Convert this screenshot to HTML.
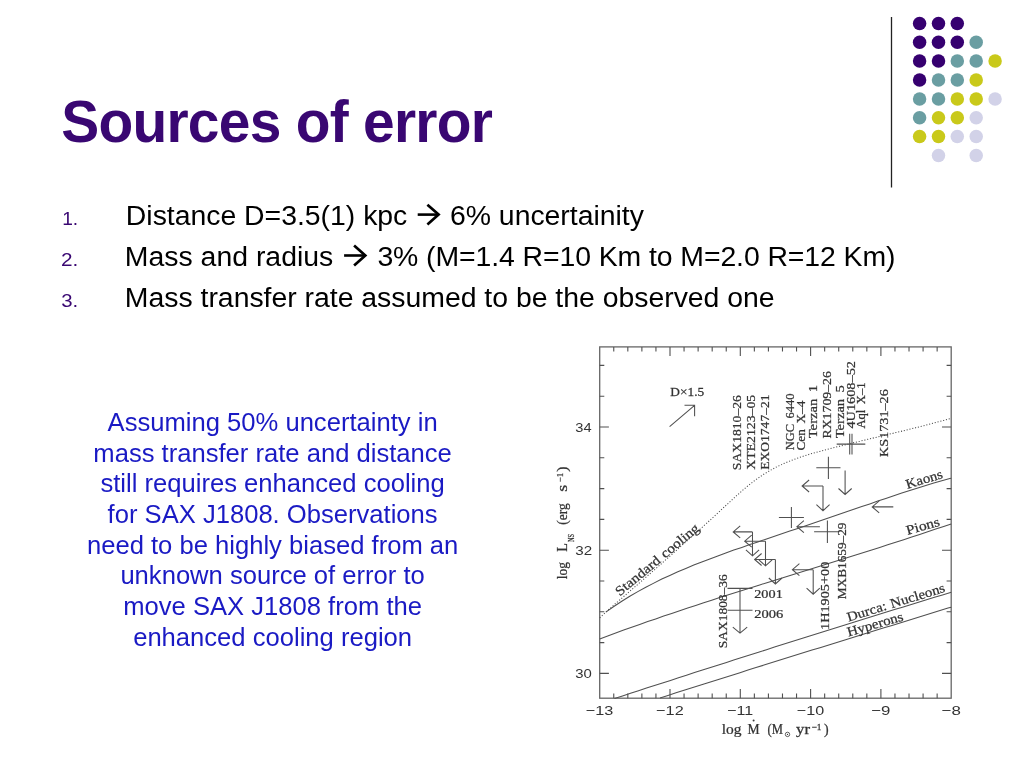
<!DOCTYPE html>
<html><head><meta charset="utf-8"><title>Sources of error</title>
<style>
html,body{margin:0;padding:0;background:#fff;}
body{width:1024px;height:768px;position:relative;overflow:hidden;font-family:"Liberation Sans",sans-serif;}
svg{position:absolute;left:0;top:0;display:block;will-change:transform;}
</style></head><body>
<svg width="1024" height="768" viewBox="0 0 1024 768">
<line x1="891.5" y1="17" x2="891.5" y2="187.5" stroke="#222" stroke-width="1.3"/>
<circle cx="919.6" cy="23.4" r="6.75" fill="#360070"/><circle cx="938.5" cy="23.4" r="6.75" fill="#360070"/><circle cx="957.3" cy="23.4" r="6.75" fill="#360070"/><circle cx="919.6" cy="42.3" r="6.75" fill="#360070"/><circle cx="938.5" cy="42.3" r="6.75" fill="#360070"/><circle cx="957.3" cy="42.3" r="6.75" fill="#360070"/><circle cx="976.2" cy="42.3" r="6.75" fill="#6a9ea2"/><circle cx="919.6" cy="61.1" r="6.75" fill="#360070"/><circle cx="938.5" cy="61.1" r="6.75" fill="#360070"/><circle cx="957.3" cy="61.1" r="6.75" fill="#6a9ea2"/><circle cx="976.2" cy="61.1" r="6.75" fill="#6a9ea2"/><circle cx="995.1" cy="61.1" r="6.75" fill="#c9c91a"/><circle cx="919.6" cy="80.0" r="6.75" fill="#360070"/><circle cx="938.5" cy="80.0" r="6.75" fill="#6a9ea2"/><circle cx="957.3" cy="80.0" r="6.75" fill="#6a9ea2"/><circle cx="976.2" cy="80.0" r="6.75" fill="#c9c91a"/><circle cx="919.6" cy="98.9" r="6.75" fill="#6a9ea2"/><circle cx="938.5" cy="98.9" r="6.75" fill="#6a9ea2"/><circle cx="957.3" cy="98.9" r="6.75" fill="#c9c91a"/><circle cx="976.2" cy="98.9" r="6.75" fill="#c9c91a"/><circle cx="995.1" cy="98.9" r="6.75" fill="#d2d2e8"/><circle cx="919.6" cy="117.8" r="6.75" fill="#6a9ea2"/><circle cx="938.5" cy="117.8" r="6.75" fill="#c9c91a"/><circle cx="957.3" cy="117.8" r="6.75" fill="#c9c91a"/><circle cx="976.2" cy="117.8" r="6.75" fill="#d2d2e8"/><circle cx="919.6" cy="136.6" r="6.75" fill="#c9c91a"/><circle cx="938.5" cy="136.6" r="6.75" fill="#c9c91a"/><circle cx="957.3" cy="136.6" r="6.75" fill="#d2d2e8"/><circle cx="976.2" cy="136.6" r="6.75" fill="#d2d2e8"/><circle cx="938.5" cy="155.5" r="6.75" fill="#d2d2e8"/><circle cx="976.2" cy="155.5" r="6.75" fill="#d2d2e8"/>
<path d="M417.70,214.60 H437.60" fill="none" stroke="#000" stroke-width="2.6"/><path d="M427.40,204.70 L438.60,214.60 L427.40,224.50" fill="none" stroke="#000" stroke-width="2.7" stroke-linejoin="miter" stroke-miterlimit="10"/><path d="M344.10,255.50 H364.30" fill="none" stroke="#000" stroke-width="2.6"/><path d="M354.10,245.60 L365.30,255.50 L354.10,265.40" fill="none" stroke="#000" stroke-width="2.7" stroke-linejoin="miter" stroke-miterlimit="10"/>
<rect x="599.7" y="346.9" width="351.5" height="351.30000000000007" fill="none" stroke="#666" stroke-width="1.3"/>
<path d="M613.76,698.2 v-4.6 M613.76,346.9 v4.6 M627.82,698.2 v-4.6 M627.82,346.9 v4.6 M641.88,698.2 v-4.6 M641.88,346.9 v4.6 M655.94,698.2 v-4.6 M655.94,346.9 v4.6 M670.00,698.2 v-9.2 M670.00,346.9 v9.2 M684.06,698.2 v-4.6 M684.06,346.9 v4.6 M698.12,698.2 v-4.6 M698.12,346.9 v4.6 M712.18,698.2 v-4.6 M712.18,346.9 v4.6 M726.24,698.2 v-4.6 M726.24,346.9 v4.6 M740.30,698.2 v-9.2 M740.30,346.9 v9.2 M754.36,698.2 v-4.6 M754.36,346.9 v4.6 M768.42,698.2 v-4.6 M768.42,346.9 v4.6 M782.48,698.2 v-4.6 M782.48,346.9 v4.6 M796.54,698.2 v-4.6 M796.54,346.9 v4.6 M810.60,698.2 v-9.2 M810.60,346.9 v9.2 M824.66,698.2 v-4.6 M824.66,346.9 v4.6 M838.72,698.2 v-4.6 M838.72,346.9 v4.6 M852.78,698.2 v-4.6 M852.78,346.9 v4.6 M866.84,698.2 v-4.6 M866.84,346.9 v4.6 M880.90,698.2 v-9.2 M880.90,346.9 v9.2 M894.96,698.2 v-4.6 M894.96,346.9 v4.6 M909.02,698.2 v-4.6 M909.02,346.9 v4.6 M923.08,698.2 v-4.6 M923.08,346.9 v4.6 M937.14,698.2 v-4.6 M937.14,346.9 v4.6 M599.7,673.40 h9.2 M951.2,673.40 h-9.2 M599.7,642.60 h4.6 M951.2,642.60 h-4.6 M599.7,611.80 h4.6 M951.2,611.80 h-4.6 M599.7,581.00 h4.6 M951.2,581.00 h-4.6 M599.7,550.20 h9.2 M951.2,550.20 h-9.2 M599.7,519.40 h4.6 M951.2,519.40 h-4.6 M599.7,488.60 h4.6 M951.2,488.60 h-4.6 M599.7,457.80 h4.6 M951.2,457.80 h-4.6 M599.7,427.00 h9.2 M951.2,427.00 h-9.2 M599.7,396.20 h4.6 M951.2,396.20 h-4.6 M599.7,365.40 h4.6 M951.2,365.40 h-4.6 " fill="none" stroke="#505050" stroke-width="1.1"/>
<path d="M605.8,612.1 L613.8,606.5 L621.8,601.2 L629.8,596.3 L637.8,591.6 L645.8,587.2 L653.8,583.1 L661.8,579.1 L669.8,575.4 L677.8,571.8 L685.8,568.4 L693.8,565.1 L701.8,561.9 L709.8,558.9 L717.8,555.9 L725.8,553.0 L733.8,550.1 L741.8,547.4 L749.8,544.6 L757.8,541.9 L765.8,539.2 L773.8,536.5 L781.8,533.8 L789.8,531.1 L797.8,528.4 L805.8,525.7 L813.8,523.0 L821.8,520.3 L829.8,517.6 L837.8,514.8 L845.8,512.1 L853.8,509.3 L861.8,506.6 L869.8,503.9 L877.8,501.1 L885.8,498.4 L893.8,495.7 L901.8,493.1 L909.8,490.4 L917.8,487.9 L925.8,485.4 L933.8,483.0 L941.8,480.7 L949.8,478.5 L951.2,478.2" fill="none" stroke="#505050" stroke-width="1.06" />
<path d="M599.7,638.9 L607.7,635.9 L615.7,633.0 L623.7,630.1 L631.7,627.3 L639.7,624.4 L647.7,621.6 L655.7,618.9 L663.7,616.1 L671.7,613.4 L679.7,610.7 L687.7,608.1 L695.7,605.4 L703.7,602.8 L711.7,600.2 L719.7,597.6 L727.7,595.0 L735.7,592.5 L743.7,590.0 L751.7,587.4 L759.7,584.9 L767.7,582.4 L775.7,579.9 L783.7,577.4 L791.7,574.9 L799.7,572.4 L807.7,569.9 L815.7,567.5 L823.7,565.0 L831.7,562.5 L839.7,560.0 L847.7,557.5 L855.7,555.0 L863.7,552.4 L871.7,549.9 L879.7,547.4 L887.7,544.8 L895.7,542.2 L903.7,539.7 L911.7,537.1 L919.7,534.4 L927.7,531.8 L935.7,529.1 L943.7,526.4 L951.2,523.9" fill="none" stroke="#505050" stroke-width="1.06" />
<path d="M614.5,698.5 L622.5,695.9 L630.5,693.3 L638.5,690.7 L646.5,688.1 L654.5,685.5 L662.5,682.9 L670.5,680.4 L678.5,677.8 L686.5,675.2 L694.5,672.6 L702.5,670.1 L710.5,667.5 L718.5,664.9 L726.5,662.4 L734.5,659.8 L742.5,657.3 L750.5,654.8 L758.5,652.2 L766.5,649.7 L774.5,647.1 L782.5,644.6 L790.5,642.1 L798.5,639.6 L806.5,637.1 L814.5,634.5 L822.5,632.0 L830.5,629.5 L838.5,627.0 L846.5,624.5 L854.5,622.0 L862.5,619.6 L870.5,617.1 L878.5,614.6 L886.5,612.1 L894.5,609.6 L902.5,607.2 L910.5,604.7 L918.5,602.2 L926.5,599.8 L934.5,597.3 L942.5,594.9 L950.5,592.4 L951.2,592.2" fill="none" stroke="#505050" stroke-width="1.06" />
<path d="M660.0,697.9 L668.0,695.4 L676.0,692.8 L684.0,690.3 L692.0,687.8 L700.0,685.3 L708.0,682.7 L716.0,680.2 L724.0,677.7 L732.0,675.2 L740.0,672.7 L748.0,670.1 L756.0,667.6 L764.0,665.1 L772.0,662.6 L780.0,660.1 L788.0,657.6 L796.0,655.1 L804.0,652.6 L812.0,650.1 L820.0,647.7 L828.0,645.2 L836.0,642.7 L844.0,640.2 L852.0,637.7 L860.0,635.2 L868.0,632.8 L876.0,630.3 L884.0,627.8 L892.0,625.4 L900.0,622.9 L908.0,620.4 L916.0,618.0 L924.0,615.5 L932.0,613.0 L940.0,610.6 L948.0,608.1 L951.2,607.2" fill="none" stroke="#505050" stroke-width="1.06" />
<path d="M599.7,617.8 L603.7,614.1 L607.7,610.5 L611.7,607.0 L615.7,603.4 L619.7,600.0 L623.7,596.5 L627.7,593.1 L631.7,589.6 L635.7,586.2 L639.7,582.7 L643.7,579.2 L647.7,575.7 L651.7,572.2 L655.7,568.7 L659.7,565.2 L663.7,561.6 L667.7,558.1 L671.7,554.5 L675.7,551.0 L679.7,547.4 L683.7,543.8 L687.7,540.3 L691.7,536.7 L695.7,533.1 L699.7,529.5 L703.7,525.9 L707.7,522.3 L711.7,518.6 L715.7,515.0 L719.7,511.3 L723.7,507.5 L727.7,503.8 L731.7,500.1 L735.7,496.5 L739.7,492.9 L743.7,489.4 L747.7,486.0 L751.7,482.8 L755.7,479.8 L759.7,477.0 L763.7,474.3 L767.7,471.9 L771.7,469.6 L775.7,467.4 L779.7,465.5 L783.7,463.6 L787.7,461.9 L791.7,460.3 L795.7,458.8 L799.7,457.4 L803.7,456.1 L807.7,454.8 L811.7,453.6 L815.7,452.5 L819.7,451.4 L823.7,450.3 L827.7,449.2 L831.7,448.2 L835.7,447.2 L839.7,446.2 L843.7,445.2 L847.7,444.2 L851.7,443.2 L855.7,442.2 L859.7,441.3 L863.7,440.3 L867.7,439.3 L871.7,438.4 L875.7,437.4 L879.7,436.5 L883.7,435.5 L887.7,434.5 L891.7,433.6 L895.7,432.6 L899.7,431.7 L903.7,430.7 L907.7,429.7 L911.7,428.7 L915.7,427.7 L919.7,426.7 L923.7,425.7 L927.7,424.6 L931.7,423.6 L935.7,422.5 L939.7,421.5 L943.7,420.4 L947.7,419.3 L951.2,418.3" fill="none" stroke="#505050" stroke-width="1.06" stroke-dasharray="1.1 1.8"/>
<path d="M752.5,531.9 H733.2 M740.2,525.9 L733.2,531.9 L740.2,537.9 M752.5,531.9 V555.9 M745.9,549.9 L752.5,555.9 L759.1,549.9 M765.5,541.2 H744.7 M751.7,535.2 L744.7,541.2 L751.7,547.2 M765.5,541.2 V565.8 M758.9,559.8 L765.5,565.8 L772.1,559.8 M775.4,559.5 H754.6 M761.6,553.5 L754.6,559.5 L761.6,565.5 M775.4,559.5 V584.0 M768.8,578.0 L775.4,584.0 L782.0,578.0 M823.0,486.0 H802.1 M809.1,480.0 L802.1,486.0 L809.1,492.0 M823.0,486.0 V510.7 M816.4,504.7 L823.0,510.7 L829.6,504.7 M813.2,569.7 H792.4 M799.4,563.7 L792.4,569.7 L799.4,575.7 M813.2,569.7 V594.2 M806.6,588.2 L813.2,594.2 L819.8,588.2 M778.9,517.5 h25.0 M791.4,506.9 v21.2 M816.3,467.8 h24.2 M828.4,456.7 v22.2 M814.1,531.7 H839.3 M827.4,520.4 V543 M836.7,444.1 h26.0 M849.7,433.7 v20.8 M838.7,444.1 h26.6 M852.0,433.7 v20.8 M845.1,470.4 V494.5 M838.5,488.5 L845.1,494.5 L851.7,488.5 M819.9,526.7 H796.9 M803.9,520.7 L796.9,526.7 L803.9,532.7 M893.3,506.9 H872.2 M879.2,500.9 L872.2,506.9 L879.2,512.9 M727.5,588.4 H752.5 M727.5,610.3 H752.5 M740.0,588.4 V633.1 M732.8,627.1 L740.0,633.1 L747.2,627.1 M669.6,426.6 L694.6,405.3 M684.5,405.3 H694.6 V416.2 " fill="none" stroke="#505050" stroke-width="1.06" stroke-linejoin="miter"/>
<circle cx="753.6" cy="720.4" r="1.0" fill="#3a3a3a"/>
<circle cx="787.5" cy="734.4" r="2.2" fill="none" stroke="#3a3a3a" stroke-width="0.8"/><circle cx="787.5" cy="734.4" r="0.6" fill="#3a3a3a"/>
<g transform="translate(62.90,141.70) scale(1.0000,1.03)"><text x="-1.75" y="0" font-family='"Liberation Sans", sans-serif' font-size="56.9" font-weight="bold" fill="#390772" letter-spacing="-0.727">Sources of error</text></g>
<g transform="translate(128.10,225.30)"><text x="-2.25" y="0" font-family='"Liberation Sans", sans-serif' font-size="28.4" font-weight="normal" fill="#000" letter-spacing="-0.010">Distance D=3.5(1) kpc</text></g>
<g transform="translate(451.50,225.30)"><text x="-1.50" y="0" font-family='"Liberation Sans", sans-serif' font-size="28.4" font-weight="normal" fill="#000" letter-spacing="-0.018">6% uncertainity</text></g>
<g transform="translate(127.10,266.30)"><text x="-2.25" y="0" font-family='"Liberation Sans", sans-serif' font-size="28.4" font-weight="normal" fill="#000" letter-spacing="0.007">Mass and radius</text></g>
<g transform="translate(378.40,266.30)"><text x="-1.00" y="0" font-family='"Liberation Sans", sans-serif' font-size="28.4" font-weight="normal" fill="#000" letter-spacing="-0.078">3% (M=1.4 R=10 Km to M=2.0 R=12 Km)</text></g>
<g transform="translate(127.10,306.70)"><text x="-2.25" y="0" font-family='"Liberation Sans", sans-serif' font-size="28.4" font-weight="normal" fill="#000" letter-spacing="-0.009">Mass transfer rate assumed to be the observed one</text></g>
<g transform="translate(63.70,225.30) scale(1.0367,1.0)"><text x="-1.50" y="0" font-family='"Liberation Sans", sans-serif' font-size="18.5" font-weight="normal" fill="#390772">1.</text></g>
<g transform="translate(62.10,266.30) scale(1.1216,1.0)"><text x="-1.00" y="0" font-family='"Liberation Sans", sans-serif' font-size="18.5" font-weight="normal" fill="#390772">2.</text></g>
<g transform="translate(62.10,306.70) scale(1.1000,1.0)"><text x="-0.75" y="0" font-family='"Liberation Sans", sans-serif' font-size="18.5" font-weight="normal" fill="#390772">3.</text></g>
<g transform="translate(740.80,469.40) rotate(-90) scale(1.0116,1.0)"><text x="-0.75" y="0" font-family='"Liberation Serif", serif' font-size="13.5" font-weight="normal" fill="#333" stroke="#333" stroke-width="0.25">SAX1810&#8211;26</text></g>
<g transform="translate(755.20,469.40) rotate(-90) scale(1.0186,1.0)"><text x="-0.25" y="0" font-family='"Liberation Serif", serif' font-size="13.5" font-weight="normal" fill="#333" stroke="#333" stroke-width="0.25">XTE2123&#8211;05</text></g>
<g transform="translate(769.30,469.40) rotate(-90) scale(1.0014,1.0)"><text x="-0.25" y="0" font-family='"Liberation Serif", serif' font-size="13.5" font-weight="normal" fill="#333" stroke="#333" stroke-width="0.25">EXO1747&#8211;21</text></g>
<g transform="translate(793.60,450.00) rotate(-90) scale(0.9251,1.0)"><text x="-0.25" y="0" font-family='"Liberation Serif", serif' font-size="13.5" font-weight="normal" fill="#333" word-spacing="2.5" stroke="#333" stroke-width="0.25">NGC 6440</text></g>
<g transform="translate(805.30,450.00) rotate(-90) scale(0.9791,1.0)"><text x="-0.50" y="0" font-family='"Liberation Serif", serif' font-size="13.5" font-weight="normal" fill="#333" word-spacing="2.5" stroke="#333" stroke-width="0.25">Cen X&#8211;4</text></g>
<g transform="translate(817.00,438.30) rotate(-90) scale(1.0866,1.0)"><text x="-0.00" y="0" font-family='"Liberation Serif", serif' font-size="13.5" font-weight="normal" fill="#333" word-spacing="2.5" stroke="#333" stroke-width="0.25">Terzan 1</text></g>
<g transform="translate(830.80,438.30) rotate(-90) scale(1.0229,1.0)"><text x="-0.25" y="0" font-family='"Liberation Serif", serif' font-size="13.5" font-weight="normal" fill="#333" stroke="#333" stroke-width="0.25">RX1709&#8211;26</text></g>
<g transform="translate(844.10,438.30) rotate(-90) scale(1.0810,1.0)"><text x="-0.00" y="0" font-family='"Liberation Serif", serif' font-size="13.5" font-weight="normal" fill="#333" word-spacing="2.5" stroke="#333" stroke-width="0.25">Terzan 5</text></g>
<g transform="translate(855.10,428.60) rotate(-90) scale(1.0609,1.0)"><text x="-0.00" y="0" font-family='"Liberation Serif", serif' font-size="13.5" font-weight="normal" fill="#333" stroke="#333" stroke-width="0.25">4U1608&#8211;52</text></g>
<g transform="translate(865.20,428.60) rotate(-90) scale(0.9354,1.0)"><text x="-0.00" y="0" font-family='"Liberation Serif", serif' font-size="13.5" font-weight="normal" fill="#333" word-spacing="2.5" stroke="#333" stroke-width="0.25">Aql X&#8211;1</text></g>
<g transform="translate(888.10,456.70) rotate(-90) scale(1.0500,1.0)"><text x="-0.25" y="0" font-family='"Liberation Serif", serif' font-size="13.5" font-weight="normal" fill="#333" stroke="#333" stroke-width="0.25">KS1731&#8211;26</text></g>
<g transform="translate(829.00,628.90) rotate(-90) scale(1.0577,1.0)"><text x="-1.00" y="0" font-family='"Liberation Serif", serif' font-size="13.5" font-weight="normal" fill="#333" stroke="#333" stroke-width="0.25">1H1905+00</text></g>
<g transform="translate(846.00,599.00) rotate(-90) scale(0.9851,1.0)"><text x="-0.25" y="0" font-family='"Liberation Serif", serif' font-size="13.5" font-weight="normal" fill="#333" stroke="#333" stroke-width="0.25">MXB1659&#8211;29</text></g>
<g transform="translate(727.00,647.50) rotate(-90) scale(0.9980,1.0)"><text x="-0.75" y="0" font-family='"Liberation Serif", serif' font-size="13.5" font-weight="normal" fill="#333" stroke="#333" stroke-width="0.25">SAX1808&#8211;36</text></g>
<g transform="translate(620.50,595.90) rotate(-39.8) scale(1.1281,1.0)"><text x="-0.75" y="0" font-family='"Liberation Serif", serif' font-size="13.5" font-weight="normal" fill="#333" word-spacing="0.8" stroke="#333" stroke-width="0.25">Standard cooling</text></g>
<g transform="translate(907.60,488.90) rotate(-17.2) scale(1.1000,1.0)"><text x="-0.25" y="0" font-family='"Liberation Serif", serif' font-size="13.5" font-weight="normal" fill="#333" stroke="#333" stroke-width="0.25">Kaons</text></g>
<g transform="translate(907.80,534.80) rotate(-15.8) scale(1.1458,1.0)"><text x="-0.25" y="0" font-family='"Liberation Serif", serif' font-size="13.5" font-weight="normal" fill="#333" stroke="#333" stroke-width="0.25">Pions</text></g>
<g transform="translate(848.80,621.60) rotate(-17.2) scale(1.1090,1.0)"><text x="-0.25" y="0" font-family='"Liberation Serif", serif' font-size="13.5" font-weight="normal" fill="#333" word-spacing="0.8" stroke="#333" stroke-width="0.25">Durca: Nucleons</text></g>
<g transform="translate(848.80,636.40) rotate(-16.2) scale(1.1019,1.0)"><text x="-0.25" y="0" font-family='"Liberation Serif", serif' font-size="13.5" font-weight="normal" fill="#333" stroke="#333" stroke-width="0.25">Hyperons</text></g>
<g transform="translate(670.60,396.00) scale(1.0677,1.0)"><text x="-0.25" y="0" font-family='"Liberation Serif", serif' font-size="12.5" font-weight="normal" fill="#333" stroke="#333" stroke-width="0.25">D&#215;1.5</text></g>
<g transform="translate(754.80,598.30) scale(1.1417,1.0)"><text x="-0.50" y="0" font-family='"Liberation Serif", serif' font-size="12.5" font-weight="normal" fill="#333" stroke="#333" stroke-width="0.25">2001</text></g>
<g transform="translate(754.80,618.10) scale(1.1629,1.0)"><text x="-0.50" y="0" font-family='"Liberation Serif", serif' font-size="12.5" font-weight="normal" fill="#333" stroke="#333" stroke-width="0.25">2006</text></g>
<g transform="translate(586.70,715.20) scale(1.2235,1.0)"><text x="-0.75" y="0" font-family='"Liberation Sans", sans-serif' font-size="13.3" font-weight="normal" fill="#333">&#8722;13</text></g>
<g transform="translate(657.00,715.20) scale(1.2235,1.0)"><text x="-0.75" y="0" font-family='"Liberation Sans", sans-serif' font-size="13.3" font-weight="normal" fill="#333">&#8722;12</text></g>
<g transform="translate(728.10,715.20) scale(1.2049,1.0)"><text x="-0.75" y="0" font-family='"Liberation Sans", sans-serif' font-size="13.3" font-weight="normal" fill="#333">&#8722;11</text></g>
<g transform="translate(797.70,715.20) scale(1.2141,1.0)"><text x="-0.75" y="0" font-family='"Liberation Sans", sans-serif' font-size="13.3" font-weight="normal" fill="#333">&#8722;10</text></g>
<g transform="translate(872.20,715.20) scale(1.2655,1.0)"><text x="-0.75" y="0" font-family='"Liberation Sans", sans-serif' font-size="13.3" font-weight="normal" fill="#333">&#8722;9</text></g>
<g transform="translate(942.45,715.20) scale(1.2727,1.0)"><text x="-0.75" y="0" font-family='"Liberation Sans", sans-serif' font-size="13.3" font-weight="normal" fill="#333">&#8722;8</text></g>
<g transform="translate(575.80,678.20) scale(1.1200,1.0)"><text x="-0.50" y="0" font-family='"Liberation Sans", sans-serif' font-size="13.3" font-weight="normal" fill="#333">30</text></g>
<g transform="translate(575.80,555.00) scale(1.1407,1.0)"><text x="-0.50" y="0" font-family='"Liberation Sans", sans-serif' font-size="13.3" font-weight="normal" fill="#333">32</text></g>
<g transform="translate(575.80,431.80) scale(1.1000,1.0)"><text x="-0.50" y="0" font-family='"Liberation Sans", sans-serif' font-size="13.3" font-weight="normal" fill="#333">34</text></g>
<g transform="translate(721.90,733.60) scale(1.0833,1.0)"><text x="-0.25" y="0" font-family='"Liberation Serif", serif' font-size="14.3" font-weight="normal" fill="#333" stroke="#333" stroke-width="0.25">log</text></g>
<g transform="translate(747.70,733.60) scale(0.9551,1.0)"><text x="-0.25" y="0" font-family='"Liberation Serif", serif' font-size="14.3" font-weight="normal" fill="#333" stroke="#333" stroke-width="0.25">M</text></g>
<g transform="translate(768.00,733.60) scale(0.8836,1.0)"><text x="-0.50" y="0" font-family='"Liberation Serif", serif' font-size="14.3" font-weight="normal" fill="#333" stroke="#333" stroke-width="0.25">(M</text></g>
<g transform="translate(796.10,733.60) scale(1.1750,1.0)"><text x="-0.00" y="0" font-family='"Liberation Serif", serif' font-size="14.3" font-weight="normal" fill="#333" stroke="#333" stroke-width="0.25">yr</text></g>
<g transform="translate(824.20,733.60) scale(0.9750,1.0)"><text x="-0.25" y="0" font-family='"Liberation Serif", serif' font-size="14.3" font-weight="normal" fill="#333" stroke="#333" stroke-width="0.25">)</text></g>
<g transform="translate(811.70,730.30) scale(1.0444,1.0)"><text x="-0.25" y="0" font-family='"Liberation Serif", serif' font-size="9" font-weight="normal" fill="#333" stroke="#333" stroke-width="0.25">&#8722;1</text></g>
<g transform="translate(566.90,579.00) rotate(-90) scale(0.9333,1.0)"><text x="-0.25" y="0" font-family='"Liberation Serif", serif' font-size="14.3" font-weight="normal" fill="#333" stroke="#333" stroke-width="0.25">log</text></g>
<g transform="translate(566.90,551.60) rotate(-90) scale(0.9935,1.0)"><text x="-0.25" y="0" font-family='"Liberation Serif", serif' font-size="14.3" font-weight="normal" fill="#333" stroke="#333" stroke-width="0.25">L</text></g>
<g transform="translate(566.90,524.30) rotate(-90) scale(0.9438,1.0)"><text x="-0.50" y="0" font-family='"Liberation Serif", serif' font-size="14.3" font-weight="normal" fill="#333" stroke="#333" stroke-width="0.25">(erg</text></g>
<g transform="translate(566.90,491.10) rotate(-90) scale(1.2632,1.0)"><text x="-0.50" y="0" font-family='"Liberation Serif", serif' font-size="14.3" font-weight="normal" fill="#333" stroke="#333" stroke-width="0.25">s</text></g>
<g transform="translate(566.90,471.60) rotate(-90) scale(1.1000,1.0)"><text x="-0.25" y="0" font-family='"Liberation Serif", serif' font-size="14.3" font-weight="normal" fill="#333" stroke="#333" stroke-width="0.25">)</text></g>
<g transform="translate(573.90,542.10) rotate(-90) scale(0.7429,1.0)"><text x="-0.00" y="0" font-family='"Liberation Serif", serif' font-size="8.6" font-weight="normal" fill="#333" stroke="#333" stroke-width="0.25">NS</text></g>
<g transform="translate(563.40,482.00) rotate(-90) scale(0.9778,1.0)"><text x="-0.25" y="0" font-family='"Liberation Serif", serif' font-size="9" font-weight="normal" fill="#333" stroke="#333" stroke-width="0.25">&#8722;1</text></g>
<g transform="translate(272.6,431.20)"><text x="0" y="0" text-anchor="middle" font-family='"Liberation Sans", sans-serif' font-size="25.60" fill="#1a1ac4">Assuming 50% uncertainty in</text></g>
<g transform="translate(272.6,461.82)"><text x="0" y="0" text-anchor="middle" font-family='"Liberation Sans", sans-serif' font-size="25.60" fill="#1a1ac4">mass transfer rate and distance</text></g>
<g transform="translate(272.6,492.44)"><text x="0" y="0" text-anchor="middle" font-family='"Liberation Sans", sans-serif' font-size="25.60" fill="#1a1ac4">still requires enhanced cooling</text></g>
<g transform="translate(272.6,523.06)"><text x="0" y="0" text-anchor="middle" font-family='"Liberation Sans", sans-serif' font-size="25.60" fill="#1a1ac4">for SAX J1808. Observations</text></g>
<g transform="translate(272.6,553.68)"><text x="0" y="0" text-anchor="middle" font-family='"Liberation Sans", sans-serif' font-size="25.60" fill="#1a1ac4">need to be highly biased from an</text></g>
<g transform="translate(272.6,584.30)"><text x="0" y="0" text-anchor="middle" font-family='"Liberation Sans", sans-serif' font-size="25.60" fill="#1a1ac4">unknown source of error to</text></g>
<g transform="translate(272.6,614.92)"><text x="0" y="0" text-anchor="middle" font-family='"Liberation Sans", sans-serif' font-size="25.60" fill="#1a1ac4">move SAX J1808 from the</text></g>
<g transform="translate(272.6,645.54)"><text x="0" y="0" text-anchor="middle" font-family='"Liberation Sans", sans-serif' font-size="25.60" fill="#1a1ac4">enhanced cooling region</text></g>
</svg>
</body></html>
